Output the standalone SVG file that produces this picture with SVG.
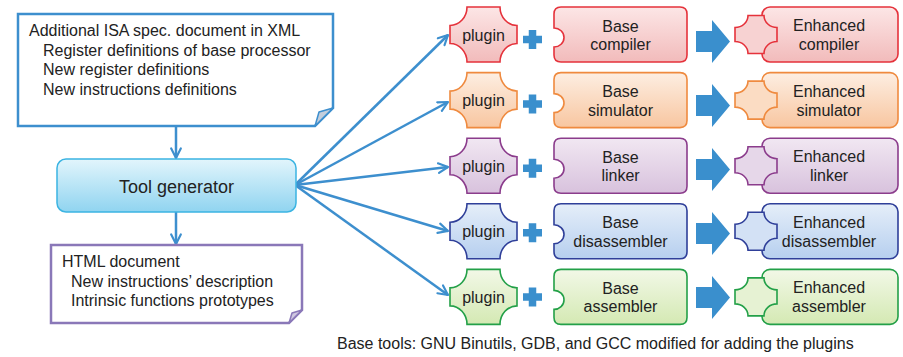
<svg xmlns="http://www.w3.org/2000/svg" xmlns:xlink="http://www.w3.org/1999/xlink" width="903" height="357" viewBox="0 0 903 357">
<style>
text{font-family:"Liberation Sans",Arial,sans-serif;fill:#222;}
.t16{font-size:16px;}
.mid{text-anchor:middle;}
.conn{stroke:#3d8fce;stroke-width:2.5;fill:none;marker-end:url(#ah);}
.blue{fill:#3a8fcd;}
.sh{stroke-width:1.6;}
</style>
<defs>
<marker id="ah" viewBox="0 0 10 10" refX="9" refY="5" markerUnits="userSpaceOnUse" markerWidth="12" markerHeight="12" orient="auto">
<path d="M1,1 L9,5 L1,9" fill="none" stroke="#3d8fce" stroke-width="1.8" stroke-linecap="round" stroke-linejoin="round"/>
</marker>
<linearGradient id="gTool" x1="0" y1="0" x2="0" y2="1"><stop offset="0" stop-color="#e2f5fc"/><stop offset="1" stop-color="#90d4f0"/></linearGradient>
<linearGradient id="gR" x1="0" y1="0" x2="0" y2="1"><stop offset="0" stop-color="#fce6e6"/><stop offset="1" stop-color="#f2bbbb"/></linearGradient>
<linearGradient id="gO" x1="0" y1="0" x2="0" y2="1"><stop offset="0" stop-color="#fdeee2"/><stop offset="1" stop-color="#f8c6a0"/></linearGradient>
<linearGradient id="gP" x1="0" y1="0" x2="0" y2="1"><stop offset="0" stop-color="#f1e7f2"/><stop offset="1" stop-color="#d8c2dd"/></linearGradient>
<linearGradient id="gB" x1="0" y1="0" x2="0" y2="1"><stop offset="0" stop-color="#e5eef9"/><stop offset="1" stop-color="#b6cfef"/></linearGradient>
<linearGradient id="gG" x1="0" y1="0" x2="0" y2="1"><stop offset="0" stop-color="#f2f8e7"/><stop offset="1" stop-color="#d4e9b3"/></linearGradient>
<path id="plugBig" d="M467,-27.5 H500 A17 18.5 0 0 0 517,-9 V9 A17 18.5 0 0 0 500,27.5 H467 A17 18.5 0 0 0 450,9 V-9 A17 18.5 0 0 0 467,-27.5 Z"/>
<path id="baseBox" d="M561,-27.5 H680 Q687,-27.5 687,-20.5 V20.5 Q687,27.5 680,27.5 H561 Q554,27.5 554,20.5 V12.5 A10 9.5 0 0 0 554,-6.5 V-20.5 Q554,-27.5 561,-27.5 Z"/>
<rect id="enhBox" x="762" y="-27.5" width="136" height="55" rx="8"/>
<path id="plugSmall" d="M748,-19 H764 A13 12 0 0 0 777,-7 V7 A13 12 0 0 0 764,19 H748 A13 12 0 0 0 735,7 V-7 A13 12 0 0 0 748,-19 Z"/>
<path id="plus" d="M523,-3.75 H528.75 V-9.5 H536.25 V-3.75 H542 V3.75 H536.25 V9.5 H528.75 V3.75 H523 Z"/>
<path id="bigArrow" d="M696,-10.5 H712 V-21.5 L730,0 L712,21.5 V10.5 H696 Z"/>
</defs>
<rect width="903" height="357" fill="#ffffff"/>

<g id="connectors">
<line class="conn" x1="176" y1="126" x2="176" y2="158"/>
<line class="conn" x1="176" y1="212" x2="176" y2="244"/>
<line class="conn" x1="295" y1="185" x2="448" y2="35"/>
<line class="conn" x1="295" y1="185" x2="448" y2="102"/>
<line class="conn" x1="295" y1="185" x2="448" y2="167"/>
<line class="conn" x1="295" y1="185" x2="448" y2="231"/>
<line class="conn" x1="295" y1="185" x2="448" y2="295"/>
</g>

<g id="isa-doc">
<path d="M18,14 H333 V108 L315,126 H18 Z" fill="#ffffff" stroke="#3d8fce" stroke-width="2.5" stroke-linejoin="miter"/>
<path d="M333,108 L315,126 L319,112 Z" fill="#c3cedc" stroke="#3d8fce" stroke-width="1.5" stroke-linejoin="round"/>
<text class="t16" x="29" y="36">Additional ISA spec. document in XML</text>
<text class="t16" x="43" y="55.5">Register definitions of base processor</text>
<text class="t16" x="43" y="75">New register definitions</text>
<text class="t16" x="43" y="94.5">New instructions definitions</text>
</g>

<g id="tool-generator">
<rect x="57" y="159" width="239" height="53" rx="9" fill="url(#gTool)" stroke="#3bb4e2" stroke-width="1.5"/>
<text class="mid" x="176.5" y="193" font-size="18">Tool generator</text>
</g>

<g id="html-doc">
<path d="M51,245 H302 V310 L289,323 H51 Z" fill="#ffffff" stroke="#8a78b8" stroke-width="2.5"/>
<path d="M302,310 L289,323 L292,313 Z" fill="#cfc7e0" stroke="#8a78b8" stroke-width="1.5" stroke-linejoin="round"/>
<text class="t16" x="62" y="267">HTML document</text>
<text class="t16" x="71" y="286.5">New instructions’ description</text>
<text class="t16" x="71" y="306">Intrinsic functions prototypes</text>
</g>

<!-- Row 1: compiler -->
<g id="plugin-compiler" transform="translate(0,34.5)">
<use xlink:href="#plugBig" fill="url(#gR)" stroke="#e5323b" class="sh"/>
<text class="t16 mid" x="483.5" y="6">plugin</text>
</g>
<g id="plus-compiler" transform="translate(0,39.5)"><use xlink:href="#plus" class="blue"/></g>
<g id="base-compiler" transform="translate(0,34.5)">
<use xlink:href="#baseBox" fill="url(#gR)" stroke="#e5323b" class="sh"/>
<text class="t16 mid" x="620.5" y="-3">Base</text>
<text class="t16 mid" x="620.5" y="15.5">compiler</text>
</g>
<g id="arrow-compiler" transform="translate(0,41.5)"><use xlink:href="#bigArrow" class="blue"/></g>
<g id="enhanced-compiler" transform="translate(0,34.5)">
<use xlink:href="#enhBox" fill="url(#gR)" stroke="#e5323b" class="sh"/>
<use xlink:href="#plugSmall" fill="#f7d2d2" stroke="#e5323b" class="sh"/>
<text class="t16 mid" x="829" y="-3.5">Enhanced</text>
<text class="t16 mid" x="829" y="15.5">compiler</text>
</g>

<!-- Row 2: simulator -->
<g id="plugin-simulator" transform="translate(0,100.1)">
<use xlink:href="#plugBig" fill="url(#gO)" stroke="#ef8a3f" class="sh"/>
<text class="t16 mid" x="483.5" y="6">plugin</text>
</g>
<g id="plus-simulator" transform="translate(0,103.9)"><use xlink:href="#plus" class="blue"/></g>
<g id="base-simulator" transform="translate(0,100.1)">
<use xlink:href="#baseBox" fill="url(#gO)" stroke="#ef8a3f" class="sh"/>
<text class="t16 mid" x="620.5" y="-3">Base</text>
<text class="t16 mid" x="620.5" y="15.5">simulator</text>
</g>
<g id="arrow-simulator" transform="translate(0,105.5)"><use xlink:href="#bigArrow" class="blue"/></g>
<g id="enhanced-simulator" transform="translate(0,100.1)">
<use xlink:href="#enhBox" fill="url(#gO)" stroke="#ef8a3f" class="sh"/>
<use xlink:href="#plugSmall" fill="#fbdcc3" stroke="#ef8a3f" class="sh"/>
<text class="t16 mid" x="829" y="-3.5">Enhanced</text>
<text class="t16 mid" x="829" y="15.5">simulator</text>
</g>

<!-- Row 3: linker -->
<g id="plugin-linker" transform="translate(0,165.7)">
<use xlink:href="#plugBig" fill="url(#gP)" stroke="#8b3c8c" class="sh"/>
<text class="t16 mid" x="483.5" y="6">plugin</text>
</g>
<g id="plus-linker" transform="translate(0,168.3)"><use xlink:href="#plus" class="blue"/></g>
<g id="base-linker" transform="translate(0,165.7)">
<use xlink:href="#baseBox" fill="url(#gP)" stroke="#8b3c8c" class="sh"/>
<text class="t16 mid" x="620.5" y="-3">Base</text>
<text class="t16 mid" x="620.5" y="15.5">linker</text>
</g>
<g id="arrow-linker" transform="translate(0,169.5)"><use xlink:href="#bigArrow" class="blue"/></g>
<g id="enhanced-linker" transform="translate(0,165.7)">
<use xlink:href="#enhBox" fill="url(#gP)" stroke="#8b3c8c" class="sh"/>
<use xlink:href="#plugSmall" fill="#e6d7e9" stroke="#8b3c8c" class="sh"/>
<text class="t16 mid" x="829" y="-3.5">Enhanced</text>
<text class="t16 mid" x="829" y="15.5">linker</text>
</g>

<!-- Row 4: disassembler -->
<g id="plugin-disassembler" transform="translate(0,231.3)">
<use xlink:href="#plugBig" fill="url(#gB)" stroke="#2f3f99" class="sh"/>
<text class="t16 mid" x="483.5" y="6">plugin</text>
</g>
<g id="plus-disassembler" transform="translate(0,232.7)"><use xlink:href="#plus" class="blue"/></g>
<g id="base-disassembler" transform="translate(0,231.3)">
<use xlink:href="#baseBox" fill="url(#gB)" stroke="#2f3f99" class="sh"/>
<text class="t16 mid" x="620.5" y="-3">Base</text>
<text class="t16 mid" x="620.5" y="15.5">disassembler</text>
</g>
<g id="arrow-disassembler" transform="translate(0,233.5)"><use xlink:href="#bigArrow" class="blue"/></g>
<g id="enhanced-disassembler" transform="translate(0,231.3)">
<use xlink:href="#enhBox" fill="url(#gB)" stroke="#2f3f99" class="sh"/>
<use xlink:href="#plugSmall" fill="#d3e1f5" stroke="#2f3f99" class="sh"/>
<text class="t16 mid" x="829" y="-3.5">Enhanced</text>
<text class="t16 mid" x="829" y="15.5">disassembler</text>
</g>

<!-- Row 5: assembler -->
<g id="plugin-assembler" transform="translate(0,296.9)">
<use xlink:href="#plugBig" fill="url(#gG)" stroke="#23a048" class="sh"/>
<text class="t16 mid" x="483.5" y="6">plugin</text>
</g>
<g id="plus-assembler" transform="translate(0,297.1)"><use xlink:href="#plus" class="blue"/></g>
<g id="base-assembler" transform="translate(0,296.9)">
<use xlink:href="#baseBox" fill="url(#gG)" stroke="#23a048" class="sh"/>
<text class="t16 mid" x="620.5" y="-3">Base</text>
<text class="t16 mid" x="620.5" y="15.5">assembler</text>
</g>
<g id="arrow-assembler" transform="translate(0,297.5)"><use xlink:href="#bigArrow" class="blue"/></g>
<g id="enhanced-assembler" transform="translate(0,296.9)">
<use xlink:href="#enhBox" fill="url(#gG)" stroke="#23a048" class="sh"/>
<use xlink:href="#plugSmall" fill="#e6f2d3" stroke="#23a048" class="sh"/>
<text class="t16 mid" x="829" y="-3.5">Enhanced</text>
<text class="t16 mid" x="829" y="15.5">assembler</text>
</g>

<g id="caption">
<text class="t16" x="337" y="349">Base tools: GNU Binutils, GDB, and GCC modified for adding the plugins</text>
</g>
</svg>
